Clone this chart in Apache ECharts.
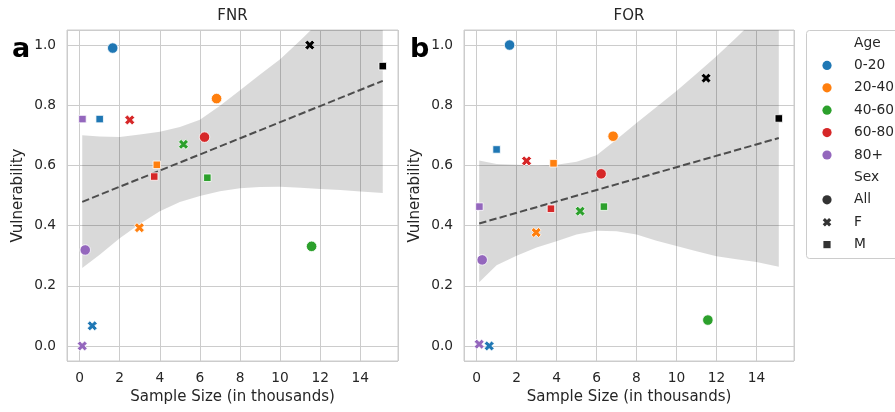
<!DOCTYPE html>
<html>
<head>
<meta charset="utf-8">
<script src="https://cdn.jsdelivr.net/npm/echarts@6/dist/echarts.min.js"></script>
<style>
  html, body { margin: 0; padding: 0; background: #fff; }
  #chart { width: 895px; height: 412px; }
</style>
</head>
<body>
<div id="chart"></div>
<script>
// ---- categories ----
const ages = ['0-20', '20-40', '40-60', '60-80', '80+'];
const ageColors = ['#1f77b4', '#ff7f0e', '#2ca02c', '#d62728', '#9467bd'];
const sexes = ['All', 'F', 'M'];
const panelTitles = ['FNR', 'FOR'];
const panelLetters = ['a', 'b'];

// ---- sample sizes (thousands), by age group ----
const sizeAll = [1.65, 6.83, 11.57, 6.23, 0.28];
const sizeF   = [0.63, 2.98, 5.18, 2.50, 0.13];
const sizeM   = [1.00, 3.85, 6.37, 3.72, 0.14];
// whole population split by sex (drawn in black)
const sizeTotalF = 11.48;
const sizeTotalM = 15.12;

// ---- FNR vulnerability ----
const fnrAll = [0.990, 0.822, 0.331, 0.694, 0.319];
const fnrF   = [0.067, 0.393, 0.670, 0.751, 0.000];
const fnrM   = [0.754, 0.602, 0.559, 0.563, 0.754];
const fnrTotalF = 1.000;
const fnrTotalM = 0.930;

// ---- FOR vulnerability ----
const forAll = [1.000, 0.697, 0.086, 0.572, 0.286];
const forF   = [0.000, 0.377, 0.448, 0.615, 0.006];
const forM   = [0.653, 0.607, 0.463, 0.456, 0.463];
const forTotalF = 0.890;
const forTotalM = 0.756;

// ---- regression fit (end points) ----
const fitX    = [0.13, 15.12];
const fnrFitY = [0.479, 0.881];
const forFitY = [0.407, 0.691];

// ---- confidence band of the fit ----
const bandX = [0.13, 1, 2, 3, 4, 5, 6, 7, 8, 9, 10, 11, 12, 13, 14, 15.12];
const fnrBandUpper = [0.700, 0.696, 0.694, 0.703, 0.712, 0.728, 0.752, 0.798, 0.850, 0.902, 0.953, 1.015, 1.080, 1.145, 1.210, 1.280];
const fnrBandLower = [0.259, 0.303, 0.358, 0.405, 0.448, 0.478, 0.498, 0.514, 0.524, 0.528, 0.529, 0.526, 0.522, 0.518, 0.513, 0.508];
const forBandUpper = [0.616, 0.605, 0.602, 0.600, 0.602, 0.612, 0.634, 0.686, 0.741, 0.794, 0.847, 0.905, 0.963, 1.025, 1.090, 1.170];
const forBandLower = [0.212, 0.268, 0.300, 0.327, 0.348, 0.370, 0.383, 0.381, 0.370, 0.350, 0.332, 0.315, 0.298, 0.288, 0.279, 0.263];

const FONT = 'DejaVu Sans';
const TEXT = '#262626';
const GRIDLINE = '#cccccc';
// filled, thick "X" marker outline on a 10x10 box
const X_POINTS = [[0,2.6],[2.6,0],[5,2.4],[7.4,0],[10,2.6],[7.6,5],[10,7.4],[7.4,10],[5,7.6],[2.6,10],[0,7.4],[2.4,5]];
const X_PATH = 'path://M' + X_POINTS.map(p => p[0] + ',' + p[1]).join('L') + 'Z';
const sexSymbols = ['circle', X_PATH, 'rect'];
const sexSizes = [10.5, 10, 7.5];

const panels = [
  { all: fnrAll, f: fnrF, m: fnrM, totF: fnrTotalF, totM: fnrTotalM, fitY: fnrFitY, up: fnrBandUpper, lo: fnrBandLower },
  { all: forAll, f: forF, m: forM, totF: forTotalF, totM: forTotalM, fitY: forFitY, up: forBandUpper, lo: forBandLower }
];

const grids = [
  { left: 67, top: 30, width: 331, height: 331, show: true, borderColor: GRIDLINE, borderWidth: 1, containLabel: false, outerBoundsMode: 'none' },
  { left: 464, top: 30, width: 330, height: 331, show: true, borderColor: GRIDLINE, borderWidth: 1, containLabel: false, outerBoundsMode: 'none' }
];

function isMultiple(v, step) {
  const q = v / step;
  return Math.abs(q - Math.round(q)) < 1e-6;
}

// Sutherland-Hodgman clip of a polygon against an axis-aligned rectangle
function clipPolygon(pts, r) {
  const edges = [
    { inside: p => p[0] >= r.x, cut: (a, b) => lerpAt(a, b, 0, r.x) },
    { inside: p => p[0] <= r.x + r.width, cut: (a, b) => lerpAt(a, b, 0, r.x + r.width) },
    { inside: p => p[1] >= r.y, cut: (a, b) => lerpAt(a, b, 1, r.y) },
    { inside: p => p[1] <= r.y + r.height, cut: (a, b) => lerpAt(a, b, 1, r.y + r.height) }
  ];
  function lerpAt(a, b, dim, v) {
    const t = (v - a[dim]) / (b[dim] - a[dim]);
    return [a[0] + (b[0] - a[0]) * t, a[1] + (b[1] - a[1]) * t];
  }
  let out = pts;
  edges.forEach(e => {
    const input = out;
    out = [];
    for (let i = 0; i < input.length; i++) {
      const cur = input[i];
      const prev = input[(i + input.length - 1) % input.length];
      const ci = e.inside(cur), pi = e.inside(prev);
      if (ci) {
        if (!pi) out.push(e.cut(prev, cur));
        out.push(cur);
      } else if (pi) {
        out.push(e.cut(prev, cur));
      }
    }
  });
  return out;
}

const xAxes = grids.map((g, i) => ({
  type: 'value', gridIndex: i, min: -0.63, max: 15.88, minInterval: 2, maxInterval: 2,
  name: 'Sample Size (in thousands)', nameLocation: 'middle', nameGap: 28,
  nameTextStyle: { fontSize: 15, color: TEXT, fontFamily: FONT },
  axisLine: { show: false }, axisTick: { show: false },
  axisLabel: {
    margin: 10, fontSize: 13.75, color: TEXT, fontFamily: FONT,
    formatter: v => isMultiple(v, 2) ? String(Math.round(v)) : ''
  },
  splitLine: { show: true, lineStyle: { color: GRIDLINE, width: 1 } }
}));

const yAxes = grids.map((g, i) => ({
  type: 'value', gridIndex: i, min: -0.05, max: 1.05, minInterval: 0.2, maxInterval: 0.2,
  name: 'Vulnerability', nameLocation: 'middle', nameGap: 41, nameRotate: 90,
  nameTextStyle: { fontSize: 15, color: TEXT, fontFamily: FONT },
  axisLine: { show: false }, axisTick: { show: false },
  axisLabel: {
    margin: 11, fontSize: 13.75, color: TEXT, fontFamily: FONT,
    formatter: v => isMultiple(v, 0.2) ? v.toFixed(1) : ''
  },
  splitLine: { show: true, lineStyle: { color: GRIDLINE, width: 1 } }
}));

const series = [];
panels.forEach((p, i) => {
  // confidence band as a single polygon, clipped to the plotting area
  const rows = bandX.map((x, k) => [x, p.up[k], p.lo[k]]);
  series.push({
    type: 'custom', xAxisIndex: i, yAxisIndex: i, z: 1, silent: true,
    data: rows,
    renderItem: function (params, api) {
      if (params.dataIndex !== 0) return null;
      const top = rows.map(r => api.coord([r[0], r[1]]));
      const bottom = rows.slice().reverse().map(r => api.coord([r[0], r[2]]));
      const cs = params.coordSys;
      const pts = clipPolygon(top.concat(bottom), { x: cs.x, y: cs.y, width: cs.width, height: cs.height });
      return { type: 'polygon', shape: { points: pts }, style: { fill: 'rgba(0,0,0,0.15)' } };
    }
  });
  // dashed regression line
  series.push({
    type: 'line', xAxisIndex: i, yAxisIndex: i, z: 2, silent: true,
    data: fitX.map((x, k) => [x, p.fitY[k]]),
    symbol: 'none',
    lineStyle: { color: '#4d4d4d', width: 2, type: [7.4, 3.2] }
  });
  // markers, one series per sex
  const bySex = [
    { sizes: sizeAll, vals: p.all, total: null },
    { sizes: sizeF, vals: p.f, total: [sizeTotalF, p.totF] },
    { sizes: sizeM, vals: p.m, total: [sizeTotalM, p.totM] }
  ];
  bySex.forEach((s, si) => {
    const data = ages.map((a, k) => ({ value: [s.sizes[k], s.vals[k]], itemStyle: { color: ageColors[k] } }));
    if (s.total) data.push({ value: s.total, itemStyle: { color: '#000000' } });
    series.push({
      type: 'scatter', name: sexes[si], xAxisIndex: i, yAxisIndex: i, z: 3, silent: true,
      symbol: sexSymbols[si], symbolSize: sexSizes[si],
      itemStyle: { borderColor: '#ffffff', borderWidth: 0.8, opacity: 1 },
      data: data
    });
  });
});

// titles and panel letters
const graphics = [];
grids.forEach((g, i) => {
  graphics.push({
    type: 'text', x: g.left + g.width / 2, y: 16, z: 10,
    style: { text: panelTitles[i], font: '15px "DejaVu Sans"', fill: TEXT, textAlign: 'center', textVerticalAlign: 'middle' }
  });
});
graphics.push({ type: 'text', x: 12, y: 36, z: 10, style: { text: panelLetters[0], font: 'bold 27px "DejaVu Sans"', fill: '#000', textVerticalAlign: 'alphabetic' } });
graphics.push({ type: 'text', x: 410, y: 36, z: 10, style: { text: panelLetters[1], font: 'bold 27px "DejaVu Sans"', fill: '#000', textVerticalAlign: 'alphabetic' } });

// legend box
const LX = 806.5, LY = 30.5, ROW = 22.4, MX = 827, TX = 854, Y0 = 43;
graphics.push({ type: 'rect', z: 20, shape: { x: LX, y: LY, width: 130, height: 228, r: 3 }, style: { fill: '#ffffff', stroke: GRIDLINE, lineWidth: 1 } });
const legendRows = [{ label: 'Age' }]
  .concat(ages.map((a, k) => ({ label: a, kind: 'circle', color: ageColors[k] })))
  .concat([{ label: 'Sex' }])
  .concat(sexes.map((s, k) => ({ label: s, kind: ['circle', 'x', 'rect'][k], color: '#333333' })));
legendRows.forEach((r, k) => {
  const cy = Y0 + k * ROW;
  graphics.push({ type: 'text', z: 21, x: TX, y: cy, style: { text: r.label, font: '13.75px "DejaVu Sans"', fill: TEXT, textVerticalAlign: 'middle' } });
  if (r.kind === 'circle') {
    graphics.push({ type: 'circle', z: 21, shape: { cx: MX, cy: cy, r: 4.6 }, style: { fill: r.color } });
  } else if (r.kind === 'rect') {
    graphics.push({ type: 'rect', z: 21, shape: { x: MX - 3.6, y: cy - 3.6, width: 7.2, height: 7.2 }, style: { fill: r.color } });
  } else if (r.kind === 'x') {
    const s = 0.86;
    graphics.push({ type: 'polygon', z: 21, shape: { points: X_POINTS.map(p => [MX - 4.3 + p[0] * s, cy - 4.3 + p[1] * s]) }, style: { fill: r.color } });
  }
});

const chart = echarts.init(document.getElementById('chart'), null, { renderer: 'canvas' });
chart.setOption({
  animation: false,
  backgroundColor: '#ffffff',
  textStyle: { fontFamily: FONT },
  grid: grids,
  xAxis: xAxes,
  yAxis: yAxes,
  series: series,
  graphic: graphics
});
</script>
</body>
</html>
